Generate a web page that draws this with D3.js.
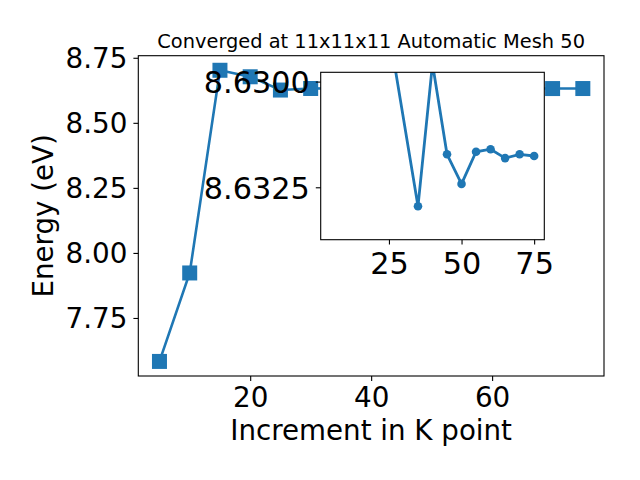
<!DOCTYPE html>
<html><head><meta charset="utf-8">
<script src="https://cdn.jsdelivr.net/npm/d3@7"></script>
<style>body{margin:0;background:#fff}svg{display:block}text{font-family:"DejaVu Sans",sans-serif;fill:#000}</style>
</head><body><svg id="c" width="640" height="480"></svg>
<script>
const kPoints = [5,10,15,20,25,30,35,40,45,50,55,60,65,70,75];
const energies = [7.583,7.923,8.702,8.677,8.626,8.632,8.633,8.6296,8.6317,8.6324,8.6317,8.6316,8.6318,8.6317,8.6318];
const insetK = [25,35,40,45,50,55,60,65,70,75];
const insetE = [8.6288,8.63295,8.62958,8.63172,8.63242,8.63166,8.6316,8.63181,8.63172,8.63176];
const xTicks = [20,40,60];
const yTicks = [7.75,8.00,8.25,8.50,8.75];
const insetXTicks = [25,50,75];
const insetYTicks = [8.6300,8.6325];
const title = "Converged at 11x11x11 Automatic Mesh 50";
const xLabel = "Increment in K point";
const yLabel = "Energy (eV)";

const color = "#1f77b4";
const svg = d3.select("#c");
svg.append("rect").attr("width",640).attr("height",480).attr("fill","#fff");

const M = {l:138.3, r:604, t:55.7, b:376};
const x = d3.scaleLinear().domain([1.5,78.5]).range([M.l,M.r]);
const y = d3.scaleLinear().domain([7.527,8.758]).range([M.b,M.t]);

const main = svg.append("g");
main.append("defs").append("clipPath").attr("id","mclip").append("rect")
  .attr("x",M.l).attr("y",M.t).attr("width",M.r-M.l).attr("height",M.b-M.t);
const mdata = kPoints.map((k,i)=>({k,e:energies[i]}));
const plot = main.append("g").attr("clip-path","url(#mclip)");
plot.append("path").datum(mdata)
  .attr("d",d3.line().x(d=>x(d.k)).y(d=>y(d.e)))
  .attr("fill","none").attr("stroke",color).attr("stroke-width",2.6);
plot.selectAll("rect.m").data(mdata).enter().append("rect").attr("class","m")
  .attr("x",d=>x(d.k)-7.5).attr("y",d=>y(d.e)-7.5).attr("width",15).attr("height",15)
  .attr("fill",color);

function styleAxis(g, fs){
  g.select(".domain").remove();
  g.selectAll(".tick line").attr("stroke","#000").attr("stroke-width",1.1);
  g.selectAll(".tick text").attr("font-size",fs).attr("fill","#000")
    .style("font-family","'DejaVu Sans',sans-serif");
}
const xa = main.append("g").attr("transform",`translate(0,${M.b})`)
  .call(d3.axisBottom(x).tickValues(xTicks).tickSize(4.9).tickPadding(4.9).tickFormat(d3.format("d")));
styleAxis(xa,"27.8px");
xa.selectAll(".tick text").attr("dy",null).attr("y",31);
const ya = main.append("g").attr("transform",`translate(${M.l},0)`)
  .call(d3.axisLeft(y).tickValues(yTicks).tickSize(4.9).tickPadding(6).tickFormat(d3.format(".2f")));
styleAxis(ya,"27.8px");
ya.selectAll(".tick text").attr("dy","0.36em");
main.append("rect").attr("x",M.l).attr("y",M.t).attr("width",M.r-M.l).attr("height",M.b-M.t)
  .attr("fill","none").attr("stroke","#000").attr("stroke-width",1.1);

svg.append("text").attr("x",(M.l+M.r)/2).attr("y",48).attr("text-anchor","middle")
  .attr("font-size","19.4px").text(title);
svg.append("text").attr("x",(M.l+M.r)/2).attr("y",440).attr("text-anchor","middle")
  .attr("font-size","27.7px").text(xLabel);
svg.append("text").attr("transform",`translate(53,${(M.t+M.b)/2}) rotate(-90)`)
  .attr("text-anchor","middle").attr("font-size","27.7px").text(yLabel);

// inset
const I = {l:320.7, r:544.3, t:72.3, b:239.7};
const ix = d3.scaleLinear().domain([1.5,78.5]).range([I.l,I.r]);
const iy = d3.scaleLinear().domain([8.62978,8.63374]).range([I.t,I.b]);
const ins = svg.append("g");
ins.append("rect").attr("x",I.l).attr("y",I.t).attr("width",I.r-I.l).attr("height",I.b-I.t).attr("fill","#fff");
ins.append("defs").append("clipPath").attr("id","iclip").append("rect")
  .attr("x",I.l).attr("y",I.t).attr("width",I.r-I.l).attr("height",I.b-I.t);
const idata = insetK.map((k,i)=>({k,e:insetE[i]}));
const ip = ins.append("g").attr("clip-path","url(#iclip)");
ip.append("path").datum(idata)
  .attr("d",d3.line().x(d=>ix(d.k)).y(d=>iy(d.e)))
  .attr("fill","none").attr("stroke",color).attr("stroke-width",2.8);
ip.selectAll("circle").data(idata).enter().append("circle")
  .attr("cx",d=>ix(d.k)).attr("cy",d=>iy(d.e)).attr("r",4.3).attr("fill",color);
const ixa = ins.append("g").attr("transform",`translate(0,${I.b})`)
  .call(d3.axisBottom(ix).tickValues(insetXTicks).tickSize(4.9).tickPadding(4.9).tickFormat(d3.format("d")));
styleAxis(ixa,"30.3px");
ixa.selectAll(".tick text").attr("dy",null).attr("y",34);
const iya = ins.append("g").attr("transform",`translate(${I.l},0)`)
  .call(d3.axisLeft(iy).tickValues(insetYTicks).tickSize(4.9).tickPadding(6).tickFormat(d3.format(".4f")));
styleAxis(iya,"30.3px");
iya.selectAll(".tick text").attr("dy","0.36em");
ins.append("rect").attr("x",I.l).attr("y",I.t).attr("width",I.r-I.l).attr("height",I.b-I.t)
  .attr("fill","none").attr("stroke","#000").attr("stroke-width",1.1);
</script></body></html>
